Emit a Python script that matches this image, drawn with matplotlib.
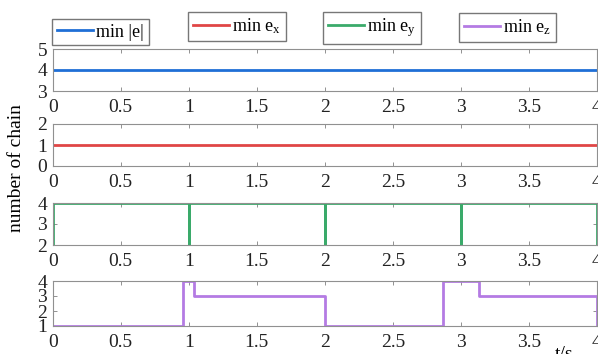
import numpy as np
import matplotlib
matplotlib.use('Agg')
import matplotlib.pyplot as plt

plt.rcParams['font.family'] = 'Liberation Serif'
plt.rcParams['mathtext.fontset'] = 'custom'
plt.rcParams['mathtext.rm'] = 'Liberation Serif'
plt.rcParams['mathtext.it'] = 'Liberation Serif'

# data
t_e = [0, 4]
n_e = [4, 4]

t_x = [0, 4]
n_x = [1, 1]

t_y = [0, 0, 1, 1, 1, 2, 2, 2, 3, 3, 3, 4, 4]
n_y = [2, 4, 4, 2, 4, 4, 2, 4, 4, 2, 4, 4, 2]

t_z = [0, 0.956, 0.956, 1.04, 1.04, 2.0, 2.0, 2.87, 2.87, 3.13, 3.13, 4.0, 4.0]
n_z = [1, 1, 4, 4, 3, 3, 1, 1, 4, 4, 3, 3, 1]

xticks = [0, 0.5, 1, 1.5, 2, 2.5, 3, 3.5, 4]
xticklabels = ['0', '0.5', '1', '1.5', '2', '2.5', '3', '3.5', '4']

labels = ['min |e|', r'min e$_{\mathregular{x}}$', r'min e$_{\mathregular{y}}$', r'min e$_{\mathregular{z}}$']
colors = ['#1f6fd6', '#e04646', '#3aaa6a', '#b47be3']
ylims = [(3, 5), (0, 2), (2, 4), (1, 4)]
yticks = [[3, 4, 5], [0, 1, 2], [2, 3, 4], [1, 2, 3, 4]]
series = [(t_e, n_e), (t_x, n_x), (t_y, n_y), (t_z, n_z)]

W, H = 598, 354
fig = plt.figure(figsize=(W / 100, H / 100), dpi=100)

# axes boxes in pixels: (top, bottom)
boxes = [(49, 91), (124, 166), (203, 245), (281, 326)]
left, right = 52.7, 597

# legend boxes (left, top) in pixels
leg_pos = [(52, 19), (188, 12), (323, 12), (459, 13)]

for i, (top, bot) in enumerate(boxes):
    ax = fig.add_axes([left / W, (H - bot) / H, (right - left) / W, (bot - top) / H])
    t, n = series[i]
    ln, = ax.plot(t, n, color=colors[i], lw=2, label=labels[i])
    ax.set_xlim(0, 4)
    ax.set_ylim(*ylims[i])
    ax.set_xticks(xticks)
    ax.set_xticklabels(xticklabels)
    ax.set_yticks(yticks[i])
    ax.tick_params(direction='in', top=True, right=True, length=3, width=0.6,
                   color='#808080', labelsize=14, labelcolor='#222222')
    ax.tick_params(axis='x', pad=6)
    ax.tick_params(axis='y', pad=4)
    for s in ax.spines.values():
        s.set_color('#909090')
        s.set_linewidth(0.8)

    lx, ly = leg_pos[i]
    fig.legend(handles=[ln], loc='upper left',
               bbox_to_anchor=(lx / W, (H - ly) / H),
               fontsize=13, frameon=True, fancybox=False, edgecolor='#555555',
               handlelength=2.0, handletextpad=0.2, borderpad=0.25,
               borderaxespad=0)

fig.text(17 / W, (H - 168) / H, 'number of chain', rotation=90,
         ha='center', va='center', fontsize=14)
fig.text(564 / W, (H - 346) / H, 't/s', ha='center', va='top', fontsize=14)

fig.savefig('out.png', dpi=100)
